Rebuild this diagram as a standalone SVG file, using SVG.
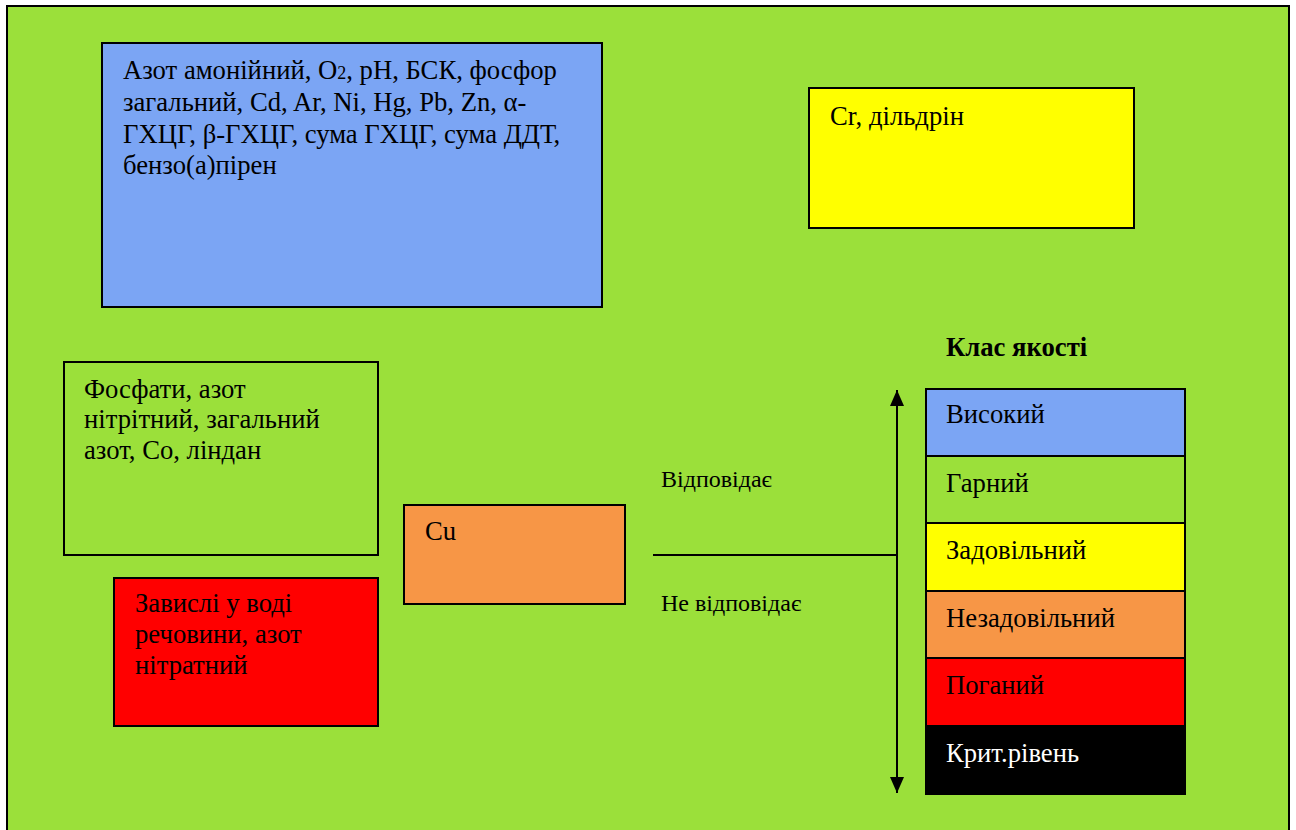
<svg xmlns="http://www.w3.org/2000/svg" width="1296" height="830" viewBox="0 0 1296 830">
<style>
.box{stroke:#000;stroke-width:2}
.t{font-family:"Liberation Serif","Times New Roman",serif;font-size:26.67px;fill:#000}
.s{font-size:24px}
.b{font-weight:bold}
.w{fill:#fff}
.ln{stroke:#000;stroke-width:2;fill:none}
</style>
<defs>
<marker id="ah" viewBox="0 0 16 14" refX="16" refY="7" markerWidth="16" markerHeight="14" markerUnits="userSpaceOnUse" orient="auto-start-reverse">
<path d="M0,0 L16,7 L0,14 z" fill="#000"/>
</marker>
</defs>
<rect width="1296" height="830" fill="#fff"/>
<rect id="frame" x="7" y="6" width="1282" height="840" fill="#9BE03A" class="box"/>
<g id="n-blue">
<rect x="102" y="43" width="500" height="264" fill="#7BA5F4" class="box"/>
<text class="t" x="123" y="79">Азот амонійний, O<tspan font-size="18">2</tspan>, pH, БСК, фосфор</text>
<text class="t" x="123" y="111">загальний, Cd, Ar, Ni, Hg, Pb, Zn, α-</text>
<text class="t" x="123" y="143">ГХЦГ, β-ГХЦГ, сума ГХЦГ, сума ДДТ,</text>
<text class="t" x="123" y="174">бензо(а)пірен</text>
</g>
<g id="n-yellow">
<rect x="809" y="88" width="325" height="140" fill="#FFFF00" class="box"/>
<text class="t" x="830" y="125">Cr, дільдрін</text>
</g>
<g id="n-green">
<rect x="64" y="362" width="314" height="193" fill="#9BE03A" class="box"/>
<text class="t" x="84" y="398">Фосфати, азот</text>
<text class="t" x="84" y="428">нітрітний, загальний</text>
<text class="t" x="84" y="459">азот, Co, ліндан</text>
</g>
<g id="n-cu">
<rect x="404" y="505" width="221" height="99" fill="#F79646" class="box"/>
<text class="t" x="425" y="540">Cu</text>
</g>
<g id="n-red">
<rect x="114" y="578" width="264" height="148" fill="#FF0000" class="box"/>
<text class="t" x="135" y="612">Завислі у воді</text>
<text class="t" x="135" y="643">речовини, азот</text>
<text class="t" x="135" y="674">нітратний</text>
</g>
<g id="scale">
<text class="t b" x="946" y="356">Клас якості</text>
<rect x="926" y="389" width="259" height="67" fill="#7BA5F4" class="box"/>
<text class="t" x="946" y="423">Високий</text>
<rect x="926" y="456" width="259" height="67" fill="#9BE03A" class="box"/>
<text class="t" x="946" y="492">Гарний</text>
<rect x="926" y="523" width="259" height="68" fill="#FFFF00" class="box"/>
<text class="t" x="946" y="559">Задовільний</text>
<rect x="926" y="591" width="259" height="67" fill="#F79646" class="box"/>
<text class="t" x="946" y="627">Незадовільний</text>
<rect x="926" y="658" width="259" height="68" fill="#FF0000" class="box"/>
<text class="t" x="946" y="694">Поганий</text>
<rect x="926" y="726" width="259" height="68" fill="#000" class="box"/>
<text class="t w" x="946" y="762">Крит.рівень</text>
</g>
<g id="connectors">
<line class="ln" x1="897" y1="390" x2="897" y2="793" marker-start="url(#ah)" marker-end="url(#ah)"/>
<line class="ln" x1="653" y1="555" x2="897" y2="555"/>
<text class="t s" x="661" y="487">Відповідає</text>
<text class="t s" x="661" y="611">Не відповідає</text>
</g>
</svg>
